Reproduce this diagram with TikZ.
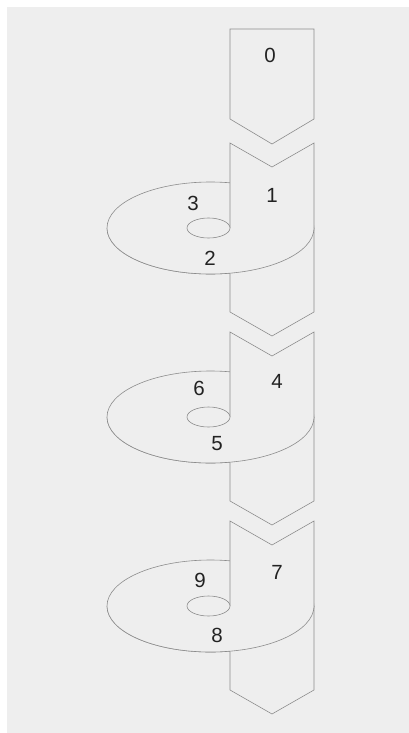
\documentclass[tikz,border=0pt]{standalone}
\usepackage{fontspec}
\setmainfont{Liberation Sans}
\definecolor{bg}{HTML}{EEEEEE}
\definecolor{ln}{HTML}{8C8C8C}
\definecolor{tx}{HTML}{222222}
\tikzset{
  outline/.style={draw=ln, line width=0.6pt, fill=bg, line join=miter},
  lbl/.style={text=tx, font=\fontsize{20.5}{22}\selectfont, inner sep=0pt},
}
\begin{document}
\begin{tikzpicture}[x=1pt,y=1pt]
\useasboundingbox (0,0) rectangle (409,-733);
\fill[white] (0,0) rectangle (409,-733);
\fill[bg] (7,-7) rectangle (409,-733);
% box 0
\draw[outline] (230,-29) -- (314,-29) -- (314,-119) -- (272,-144) -- (230,-119) -- cycle;
\node[lbl] (n0) at (270,-55) {0};
\foreach \k/\a/\b/\c/\ax/\bx/\cx/\ay/\by/\cy in {0/1/3/2/272/193/210/195/203/258, 1/4/6/5/277/199/217/192/199/255, 2/7/9/8/277/200/217/194/202/257}{
  \begin{scope}[yshift={-189*\k}]
    % disc (back)
    \draw[outline] (210.5,-228) ellipse [x radius=103.5, y radius=46];
    % box
    \draw[outline] (230,-143) -- (272,-167) -- (314,-143) -- (314,-312) -- (272,-336) -- (230,-312) -- cycle;
    % disc front half
    \fill[bg] (107,-228) arc [start angle=180, end angle=360, x radius=103.5, y radius=46] -- cycle;
    \draw[draw=ln, line width=0.6pt] (107,-228) arc [start angle=180, end angle=360, x radius=103.5, y radius=46];
    % hole
    \draw[outline] (208.5,-228) ellipse [x radius=21.5, y radius=10];
    \node[lbl] (b\k) at (\ax,-\ay) {\a};
    \node[lbl] (u\k) at (\bx,-\by) {\b};
    \node[lbl] (l\k) at (\cx,-\cy) {\c};
  \end{scope}
}
\end{tikzpicture}
\end{document}
